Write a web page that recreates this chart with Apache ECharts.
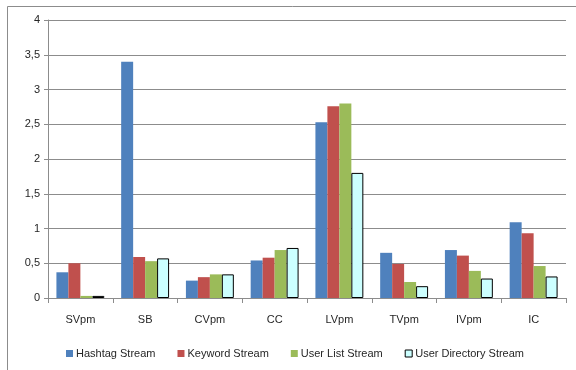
<!DOCTYPE html>
<html>
<head>
<meta charset="utf-8">
<script src="https://cdn.jsdelivr.net/npm/echarts@6/dist/echarts.min.js"></script>
<style>
  html, body { margin: 0; padding: 0; background: #fff; }
  #chart { width: 576px; height: 370px; }
</style>
</head>
<body>
<div id="chart"></div>
<script>
// Metrics per stream type
const categories = ['SVpm', 'SB', 'CVpm', 'CC', 'LVpm', 'TVpm', 'IVpm', 'IC'];
const hashtagStream = [0.37, 3.40, 0.25, 0.54, 2.53, 0.65, 0.69, 1.09];
const keywordStream = [0.50, 0.59, 0.30, 0.58, 2.76, 0.49, 0.61, 0.93];
const userListStream = [0.03, 0.53, 0.34, 0.69, 2.80, 0.23, 0.39, 0.46];
const userDirectoryStream = [0.03, 0.57, 0.34, 0.72, 1.80, 0.17, 0.28, 0.31];
const seriesNames = ['Hashtag Stream', 'Keyword Stream', 'User List Stream', 'User Directory Stream'];

const font = 'Liberation Sans, Arial, sans-serif';
const textColor = '#262626';

const chart = echarts.init(document.getElementById('chart'), null, { renderer: 'canvas' });

function barSeries(name, data, color, border) {
  return {
    name: name,
    type: 'bar',
    data: data,
    barGap: '0%',
    barCategoryGap: '26%',
    itemStyle: border
      ? { color: color, borderColor: '#000', borderWidth: 1 }
      : { color: color },
    emphasis: { disabled: true }
  };
}

chart.setOption({
  animation: false,
  backgroundColor: '#fff',
  graphic: [
    { type: 'polyline', shape: { points: [[7.5, 400], [7.5, 6.5], [600, 6.5]] },
      style: { stroke: '#8c8c8c', lineWidth: 1, fill: null }, silent: true }
  ],
  grid: { left: 48, right: 10, top: 20, bottom: 72, containLabel: false },
  legend: {
    data: seriesNames.map((n, i) => i === 3
      ? { name: n, itemStyle: { borderWidth: 1, borderColor: '#000' } }
      : { name: n }),
    left: 61,
    top: 343,
    icon: 'rect',
    itemWidth: 7,
    itemHeight: 7,
    itemGap: 22,
    textStyle: { fontFamily: font, fontSize: 11, color: textColor, padding: [0, 0, 0, -2] }
  },
  xAxis: {
    type: 'category',
    data: categories,
    axisLine: { lineStyle: { color: '#8c8c8c', width: 1 } },
    axisTick: { show: true, alignWithLabel: false, length: 5, lineStyle: { color: '#8c8c8c' } },
    axisLabel: { fontFamily: font, fontSize: 11, color: textColor, margin: 16 }
  },
  yAxis: {
    type: 'value',
    min: 0,
    max: 4,
    interval: 0.5,
    axisLine: { show: true, lineStyle: { color: '#8c8c8c', width: 1 } },
    axisTick: { show: true, length: 4, lineStyle: { color: '#8c8c8c' } },
    splitLine: { show: true, lineStyle: { color: '#8c8c8c', width: 1 } },
    axisLabel: {
      fontFamily: font, fontSize: 11, color: textColor, margin: 8,
      formatter: v => String(v).replace('.', ',')
    }
  },
  series: [
    barSeries(seriesNames[0], hashtagStream, '#4F81BD', false),
    barSeries(seriesNames[1], keywordStream, '#C0504D', false),
    barSeries(seriesNames[2], userListStream, '#9BBB59', false),
    barSeries(seriesNames[3], userDirectoryStream, '#CCFFFF', true)
  ]
});
</script>
</body>
</html>
